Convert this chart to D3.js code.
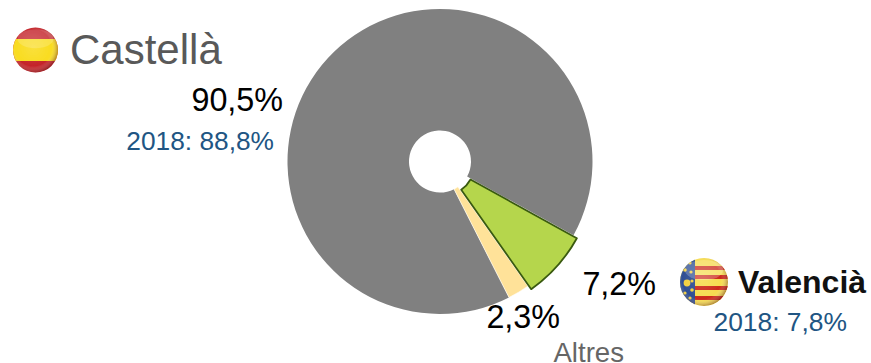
<!DOCTYPE html>
<html><head><meta charset="utf-8">
<script src="https://cdn.jsdelivr.net/npm/d3@7/dist/d3.min.js"></script>
<style>html,body{margin:0;padding:0;background:#fff}svg{display:block}text{font-family:"Liberation Sans",Arial,sans-serif}</style>
</head><body><svg id="c" width="871" height="363"></svg>
<script>
const categories = ["Castellà","Valencià","Altres"];
const values = [90.5,7.2,2.3];
const labels = ["90,5%","7,2%","2,3%"];
const prior = ["2018: 88,8%","2018: 7,8%"];
const colors = ["#808080","#b5d64c","#ffe299"];
const svg = d3.select("#c");
const cx=440, cy=161.5;
const pie = d3.pie().sort(null).value(d=>d).startAngle(-206.9*Math.PI/180).endAngle(153.1*Math.PI/180);
const arcs = pie(values);
const arc = d3.arc().innerRadius(31).outerRadius(152.5);
const g = svg.append("g").attr("transform",`translate(${cx},${cy})`);
[0,2,1].forEach(i=>{
  const a=arcs[i]; const mid=(a.startAngle+a.endAngle)/2;
  const off=i===1?4.5:0;
  g.append("path").attr("d",arc(a))
   .attr("transform",`translate(${off*Math.sin(mid)},${-off*Math.cos(mid)})`)
   .attr("fill",colors[i])
   .attr("stroke",i===1?"#3a5a10":"#fff")
   .attr("stroke-width",i===1?1.8:(i===0?0:0.6))
   .attr("stroke-linejoin","round");
});
const defs=svg.append("defs");
const r=defs.append("radialGradient").attr("id","gl").attr("cx","45%").attr("cy","45%").attr("r","58%");
r.append("stop").attr("offset","0%").attr("stop-color","#fff").attr("stop-opacity",.12);
r.append("stop").attr("offset","70%").attr("stop-color","#fff").attr("stop-opacity",0);
r.append("stop").attr("offset","100%").attr("stop-color","#400").attr("stop-opacity",.5);
defs.append("filter").attr("id","soft").append("feGaussianBlur").attr("stdDeviation",.7);
function flag(id,x,y,rad,draw,shine){
  defs.append("clipPath").attr("id",id).append("circle").attr("cx",x).attr("cy",y).attr("r",rad);
  const outer=svg.append("g").attr("filter","url(#soft)");
  const f=outer.append("g").attr("clip-path",`url(#${id})`);
  draw(f);
  f.append("circle").attr("cx",x).attr("cy",y).attr("r",rad).attr("fill","url(#gl)");
  f.append("ellipse").attr("cx",x).attr("cy",y-rad*.5).attr("rx",rad*.8).attr("ry",rad*.42).attr("fill","#fff").attr("opacity",shine);
}
flag("es",35.5,50,22.5,f=>{
  f.append("rect").attr("x",13).attr("y",27).attr("width",46).attr("height",46).attr("fill","#c4242a");
  f.append("rect").attr("x",13).attr("y",39).attr("width",46).attr("height",22).attr("fill","#f9dc20");
},.18);
flag("va",704,282,24,f=>{
  f.append("rect").attr("x",680).attr("y",258).attr("width",48).attr("height",48).attr("fill","#f6dc50");
  [266,275,286,296].forEach(y=>f.append("rect").attr("x",694).attr("y",y).attr("width",34).attr("height",4).attr("fill","#cc2a1c"));
  f.append("rect").attr("x",680).attr("y",258).attr("width",15).attr("height",48).attr("fill","#2f4f94");
  [[690,263,1.6],[685,270,1.8],[691,272,1.6],[687,283,3.4],[692,281,1.6],[692,290,1.8],[685,293,1.6],[690,298,1.6]]
    .forEach(d=>f.append("circle").attr("cx",d[0]).attr("cy",d[1]).attr("r",d[2]).attr("fill","#f2d040"));
},.22);
function t(x,y,s,size,fill,anchor,weight){
  svg.append("text").attr("x",x).attr("y",y).attr("font-size",size).attr("fill",fill).attr("text-anchor",anchor||"start").attr("font-weight",weight||"normal").text(s);
}
t(70,64,categories[0],42,"#595959");
t(283,111,labels[0],32.3,"#000","end");
t(274,150,prior[0],26.3,"#215583","end");
t(656,295,labels[1],32.3,"#000","end");
t(560,328,labels[2],32.3,"#000","end");
t(738,293,categories[1],32,"#111","start","bold");
t(847,331,prior[1],26.4,"#215583","end");
t(624,361.5,categories[2],27.6,"#666","end");
</script></body></html>
